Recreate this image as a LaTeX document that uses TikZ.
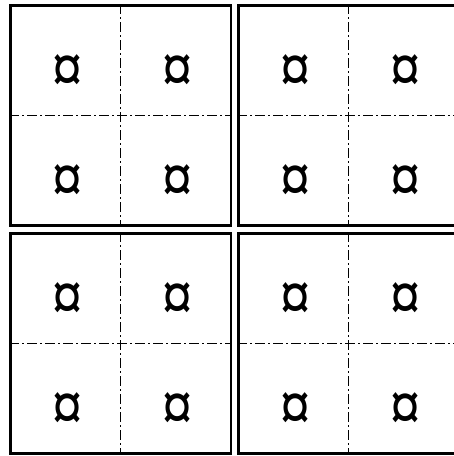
\documentclass[tikz,border=0pt]{standalone}
\usepackage{fontspec}
\newfontfamily\symfont{Liberation Serif}
\begin{document}
\begin{tikzpicture}[x=1pt,y=1pt,
  panel/.style={draw=black,line width=2.8pt,rectangle,minimum width=220.5pt,minimum height=220pt,inner sep=0pt},
  divider/.style={draw=black,line width=1.1pt,dash pattern=on 10pt off 3pt on 2pt off 3pt},
  cur/.style={inner sep=0pt,yscale=1.2,transform shape,font=\symfont\bfseries\fontsize{60}{60}\selectfont}]
\useasboundingbox (0,0) rectangle (454,456);
\foreach \n/\cx/\cy in {p1/120.75/340.5, p2/348.75/340.5, p3/120.75/112.5, p4/348.75/112.5}{
  \node[panel] (\n) at (\cx,\cy) {};
  \draw[divider] (\n.north) -- (\n.south);
  \draw[divider] (\n.west) -- (\n.east);
  \node[cur] (\n a) at ([shift={(-53,41)}]\n.center) {¤};
  \node[cur] (\n b) at ([shift={(57,41)}]\n.center) {¤};
  \node[cur] (\n c) at ([shift={(-53,-69)}]\n.center) {¤};
  \node[cur] (\n d) at ([shift={(57,-69)}]\n.center) {¤};
}
\end{tikzpicture}
\end{document}
